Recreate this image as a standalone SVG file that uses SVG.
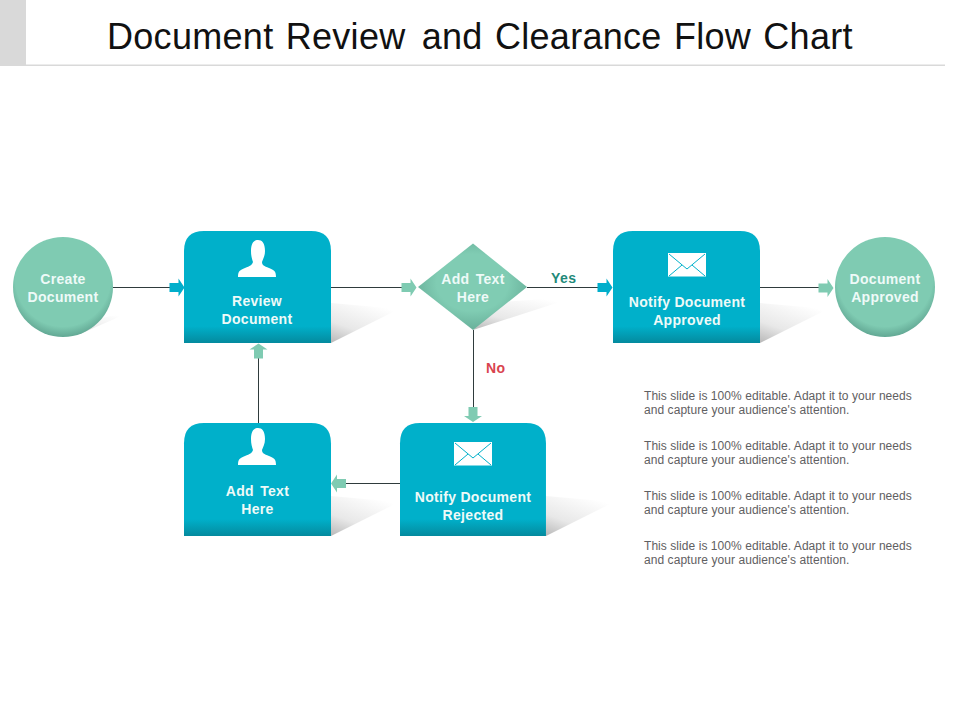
<svg xmlns="http://www.w3.org/2000/svg" xmlns:xlink="http://www.w3.org/1999/xlink" width="960" height="720" viewBox="0 0 960 720">
<style>
text{font-family:"Liberation Sans",Arial,sans-serif}
.t{font-size:14px;font-weight:700;fill:#eefaf8;text-anchor:middle;letter-spacing:.3px}
.b{font-size:12px;fill:#5f6062;letter-spacing:.06px}
.c{fill:none;stroke:#2f3b3d;stroke-width:1}
.ic{fill:#fff}
</style>
<defs>
<linearGradient id="box" x1="0" y1="0" x2="0" y2="1"><stop offset="0.85" stop-color="#00b0ca"/><stop offset="1" stop-color="#048a9e"/></linearGradient>
<radialGradient id="circ" cx="0.5" cy="0.42" r="0.58"><stop offset="0.82" stop-color="#7fcbb2"/><stop offset="1" stop-color="#62a894"/></radialGradient>
<radialGradient id="dia" cx="0.5" cy="0.45" r="0.55"><stop offset="0.6" stop-color="#80ccb3"/><stop offset="1" stop-color="#68b09a"/></radialGradient>
<linearGradient id="sh" x1="0" y1="1" x2="0.6" y2="0"><stop offset="0" stop-color="#b8b8b8"/><stop offset="0.4" stop-color="#e8e8e8"/><stop offset="1" stop-color="#fff"/></linearGradient>
<path id="rb" d="M0 112V20Q0 0 20 0H127Q147 0 147 20V112Z" fill="url(#box)"/>
<path id="shb" d="M0 112V72L68 78Z" fill="url(#sh)"/>
<path id="user" class="ic" d="M-6 -16C-6 -24 -3 -27 1 -27C5 -27 8 -24 8 -16C8 -11 6 -8 5 -5C5 -2 7 -1 12 1C17 3 19 4 19 10H-19C-19 4 -17 3 -12 1C-7 -1 -5 -2 -4 -5C-5 -8 -6 -11 -6 -16Z"/>
<g id="mail"><rect x="-19" y="-12" width="38" height="23.500" fill="#fff"/><path d="M-18 -11L0 4L18 -11M-18 11L-5 0M18 11L5 0" fill="none" stroke="#00b0ca" stroke-width="1"/></g>
<path id="ar" d="M-15 -4.500H-6V-9L0 0L-6 9V4.500H-15Z"/>
</defs>

<rect id="title-tab" x="0" y="0" width="26" height="65" fill="#d9d9d9"/>
<rect id="title-rule" x="0" y="64.500" width="945" height="1.500" fill="#d9d9d9"/>
<text id="title" x="107" y="49" font-size="36" fill="#111" letter-spacing=".3" word-spacing="1.900">Document Review <tspan dx="4">and</tspan> Clearance Flow Chart</text>

<g id="shadows">
<path d="M80 334L128 313L90 320Z" fill="url(#sh)" opacity=".7"/>
<use xlink:href="#shb" x="331" y="231"/>
<path d="M473 330L575 297L500 302Z" fill="url(#sh)"/>
<use xlink:href="#shb" x="760" y="231"/>
<use xlink:href="#shb" x="331" y="424"/>
<use xlink:href="#shb" x="546" y="424"/>
</g>

<g id="connectors">
<path class="c" d="M113 287.500H170"/>
<path class="c" d="M331 287.500H402"/>
<path class="c" d="M527 287.500H598"/>
<path class="c" d="M760 287.500H820"/>
<path class="c" d="M473.500 330V408"/>
<path class="c" d="M400 483.500H345"/>
<path class="c" d="M258.500 423V358"/>
<use xlink:href="#ar" transform="translate(184.500 287.500)" fill="#00aecb"/>
<use xlink:href="#ar" transform="translate(416.500 287.500)" fill="#7fcbb2"/>
<use xlink:href="#ar" transform="translate(612.500 287.500)" fill="#00aecb"/>
<use xlink:href="#ar" transform="translate(833.500 288)" fill="#7fcbb2"/>
<use xlink:href="#ar" transform="translate(473 422) rotate(90)" fill="#7fcbb2"/>
<use xlink:href="#ar" transform="translate(331 483.500) rotate(180)" fill="#7fcbb2"/>
<use xlink:href="#ar" transform="translate(258.500 343.500) rotate(-90)" fill="#7fcbb2"/>
<text x="551" y="283" font-size="14" font-weight="700" fill="#1f8a7a" letter-spacing=".4">Yes</text>
<text x="486" y="373" font-size="14" font-weight="700" fill="#d9434e" letter-spacing=".3">No</text>
</g>

<g id="create-document">
<circle cx="63" cy="287" r="50" fill="url(#circ)"/>
<text class="t" x="63" y="284">Create</text>
<text class="t" x="63" y="302">Document</text>
</g>
<g id="review-document">
<use xlink:href="#rb" x="184" y="231"/>
<use xlink:href="#user" x="257" y="267"/>
<text class="t" x="257" y="306">Review</text>
<text class="t" x="257" y="324">Document</text>
</g>
<g id="decision">
<path d="M418 287L473 243.500L527 287L473 330Z" fill="url(#dia)"/>
<text class="t" x="473" y="284" word-spacing="2">Add Text</text>
<text class="t" x="473" y="302">Here</text>
</g>
<g id="notify-approved">
<use xlink:href="#rb" x="613" y="231"/>
<use xlink:href="#mail" x="687" y="265"/>
<text class="t" x="687" y="307">Notify Document</text>
<text class="t" x="687" y="325">Approved</text>
</g>
<g id="document-approved">
<circle cx="885" cy="287" r="50" fill="url(#circ)"/>
<text class="t" x="885" y="284">Document</text>
<text class="t" x="885" y="302">Approved</text>
</g>
<g id="add-text">
<use xlink:href="#rb" transform="translate(184 423) scale(1 1.009)"/>
<use xlink:href="#user" x="257" y="455"/>
<text class="t" x="257.500" y="496" word-spacing="2">Add Text</text>
<text class="t" x="257.500" y="514">Here</text>
</g>
<g id="notify-rejected">
<use xlink:href="#rb" transform="translate(400 423) scale(0.993 1.009)"/>
<use xlink:href="#mail" x="473" y="454"/>
<text class="t" x="473" y="502">Notify Document</text>
<text class="t" x="473" y="520">Rejected</text>
</g>

<g id="notes">
<text class="b" x="644" y="400">This slide is 100% editable. Adapt it to your needs</text>
<text class="b" x="644" y="414">and capture your audience's attention.</text>
<text class="b" x="644" y="450">This slide is 100% editable. Adapt it to your needs</text>
<text class="b" x="644" y="464">and capture your audience's attention.</text>
<text class="b" x="644" y="500">This slide is 100% editable. Adapt it to your needs</text>
<text class="b" x="644" y="514">and capture your audience's attention.</text>
<text class="b" x="644" y="550">This slide is 100% editable. Adapt it to your needs</text>
<text class="b" x="644" y="564">and capture your audience's attention.</text>
</g>
</svg>
